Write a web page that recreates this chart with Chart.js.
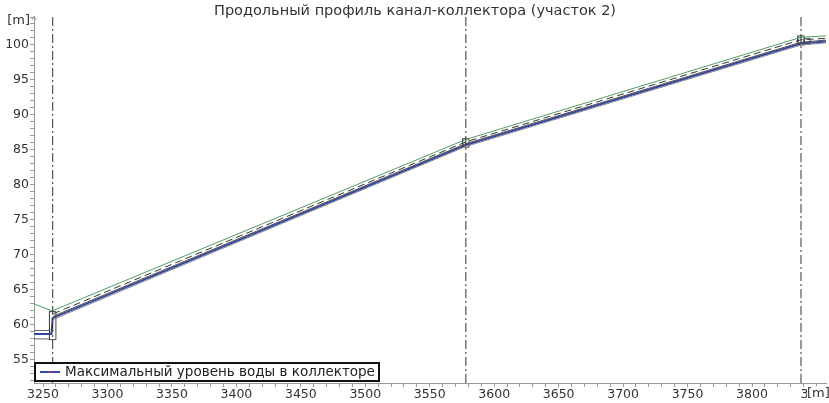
<!DOCTYPE html>
<html>
<head>
<meta charset="utf-8">
<script src="https://cdn.jsdelivr.net/npm/chart.js@4.4.1/dist/chart.umd.min.js"></script>
<style>
  html, body { margin: 0; padding: 0; background: #fff; }
  #wrap { width: 829px; height: 403px; position: relative; }
</style>
</head>
<body>
<div id="wrap"><canvas id="myChart" width="829" height="403"></canvas></div>
<script>
// оси
let x_min = 3243, x_max = 3857.4;
let y_min = 51.7, y_max = 104;
let x_labels = [3250, 3300, 3350, 3400, 3450, 3500, 3550, 3600, 3650, 3700, 3750, 3800, 3850];
let y_labels = [55, 60, 65, 70, 75, 80, 85, 90, 95, 100];

// поверхность земли
let ground_x = [3243, 3257, 3578, 3838, 3857.4];
let ground_y = [63.0, 62.0, 86.5, 101.1, 101.3];
// верх трубы (пунктир)
let crown_x = [3258, 3578, 3838, 3857.4];
let crown_y = [61.6, 86.15, 100.75, 100.95];
// стенки трубы
let pipe_top_x = [3258, 3578, 3838, 3857.4];
let pipe_top_y = [61.25, 85.9, 100.4, 100.7];
let pipe_bot_x = [3258, 3578, 3838, 3857.4];
let pipe_bot_y = [60.8, 85.5, 100.0, 100.3];
// входящая труба слева
let in_top_x = [3243, 3255];
let in_top_y = [59.2, 59.2];
let in_bot_x = [3243, 3255];
let in_bot_y = [58.0, 58.0];
// максимальный уровень воды
let water_x = [3243, 3256.5, 3257.5, 3578, 3838, 3857.4];
let water_y = [58.7, 58.7, 61.0, 85.7, 100.2, 100.5];
// колодцы [x1, x2, y1, y2]
let wells = [[3255, 3260, 57.9, 61.9], [3575.5, 3580.5, 85.4, 86.6], [3835.5, 3840.5, 100.0, 101.3], [3840.5, 3845, 100.1, 100.9]];
// вертикальные линии колодцев
let well_lines = [3257.5, 3578, 3838];

let title_text = "Продольный профиль канал-коллектора (участок 2)";
let legend_text = "Максимальный уровень воды в коллекторе";
let font_name = "DejaVu Sans";

function pts(xs, ys) {
	let res = [];
	for (let i = 0; i < xs.length; i++) res.push({x: xs[i], y: ys[i]});
	return res;
}

function lineDs(xs, ys, color, width, dash) {
	return {data: pts(xs, ys), borderColor: color, borderWidth: width, borderDash: dash || [],
		pointRadius: 0, fill: false, tension: 0};
}

let datasets = [];
for (let i = 0; i < well_lines.length; i++) {
	datasets.push(lineDs([well_lines[i], well_lines[i]], [y_min, y_max], "#333", 1, [9, 3, 2, 3]));
}
datasets.push(lineDs(in_top_x, in_top_y, "#666", 1));
datasets.push(lineDs(in_bot_x, in_bot_y, "#666", 1));
datasets.push(lineDs(ground_x, ground_y, "#4f9e62", 1));
datasets.push(lineDs(crown_x, crown_y, "#333", 1, [7, 4]));
datasets.push(lineDs(pipe_top_x, pipe_top_y, "#555", 1));
datasets.push(lineDs(pipe_bot_x, pipe_bot_y, "#888", 1));
for (let i = 0; i < wells.length; i++) {
	let w = wells[i];
	datasets.push(lineDs([w[0], w[1], w[1], w[0], w[0]], [w[2], w[2], w[3], w[3], w[2]], "#444", 1));
}
datasets.push(lineDs(water_x, water_y, "#3347a8", 2));

// тики с шагом step внутри [from, to], подписи только на labels
function makeTicks(from, to, step) {
	let res = [];
	for (let v = Math.ceil(from / step) * step; v <= to; v += step) res.push({value: v});
	return res;
}

const decorPlugin = {
	id: 'decor',
	afterDraw(chart) {
		const ctx = chart.ctx;
		const a = chart.chartArea;
		ctx.save();
		// заголовок
		ctx.fillStyle = "#333";
		ctx.font = "14.5px " + font_name;
		ctx.textAlign = "center";
		ctx.textBaseline = "middle";
		ctx.fillText(title_text, 415, 11);
		// [m] по оси y
		ctx.font = "13px " + font_name;
		ctx.textAlign = "right";
		ctx.fillText("[m]", 30, 21);
		// стрелка оси y
		ctx.strokeStyle = "#999";
		ctx.lineWidth = 1;
		ctx.beginPath();
		ctx.moveTo(a.left - 2, a.top + 3); ctx.lineTo(a.left, a.top - 1); ctx.lineTo(a.left + 2, a.top + 3);
		ctx.stroke();
		// [m] по оси x
		ctx.fillStyle = "#fff";
		ctx.fillRect(807, 386, 22, 16);
		ctx.fillStyle = "#333";
		ctx.textAlign = "left";
		ctx.fillText("[m]", 807, 394);
		// легенда
		let lx = 34, ly = 362, lw = 346, lh = 20;
		ctx.fillStyle = "#fff";
		ctx.fillRect(lx, ly, lw, lh);
		ctx.strokeStyle = "#111";
		ctx.lineWidth = 2;
		ctx.strokeRect(lx + 1, ly + 1, lw - 2, lh - 2);
		ctx.strokeStyle = "#3347a8";
		ctx.lineWidth = 2;
		ctx.beginPath(); ctx.moveTo(40, ly + 10); ctx.lineTo(60, ly + 10); ctx.stroke();
		ctx.fillStyle = "#d03030";
		ctx.fillRect(49, ly + 9, 2, 2);
		ctx.fillStyle = "#222";
		ctx.font = "13.5px " + font_name;
		ctx.textAlign = "left";
		ctx.fillText(legend_text, 65, ly + 10);
		ctx.restore();
	}
};

const ctx = document.getElementById('myChart').getContext('2d');
let myChart = new Chart(ctx, {
	type: 'line',
	data: {datasets: datasets},
	options: {
		animation: false,
		responsive: false,
		layout: {padding: {top: 17, right: 3, left: 0, bottom: 0}},
		plugins: {legend: {display: false}, tooltip: {enabled: false}},
		scales: {
			x: {
				type: 'linear', min: x_min, max: x_max,
				afterBuildTicks: function(s) { s.ticks = makeTicks(x_min, x_max, 10); },
				afterFit: function(s) { s.height = 20; s.paddingLeft = 0; s.paddingRight = 0; },
				border: {color: "#999", width: 1},
				grid: {drawOnChartArea: false, tickLength: 4, tickColor: "#999"},
				ticks: {autoSkip: false, maxRotation: 0, padding: 0, color: "#333",
					font: {family: font_name, size: 12.5},
					callback: function(v) { return x_labels.indexOf(v) >= 0 ? v : ''; }}
			},
			y: {
				type: 'linear', min: y_min, max: y_max,
				afterBuildTicks: function(s) { s.ticks = makeTicks(y_min, y_max, 1); },
				afterFit: function(s) { s.width = 34; s.paddingTop = 0; s.paddingBottom = 0; },
				border: {color: "#999", width: 1},
				grid: {drawOnChartArea: false, tickLength: 4, tickColor: "#999"},
				ticks: {autoSkip: false, padding: 1, color: "#333",
					font: {family: font_name, size: 12.5},
					callback: function(v) { return y_labels.indexOf(v) >= 0 ? v : ''; }}
			}
		}
	},
	plugins: [decorPlugin]
});
</script>
</body>
</html>
